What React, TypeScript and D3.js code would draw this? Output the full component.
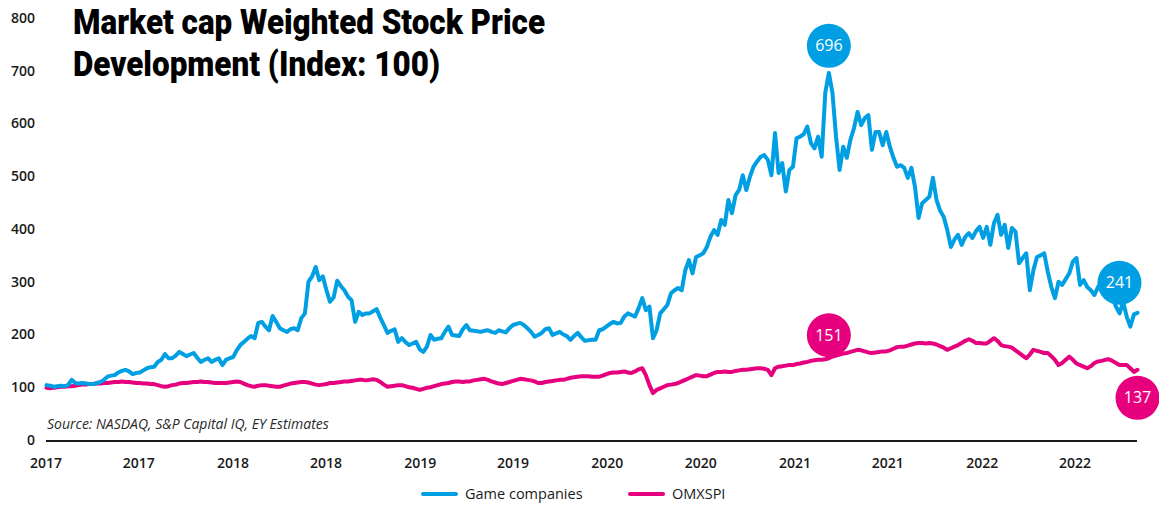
import React from 'react';
import * as d3 from 'd3';

// weekly index values, first week starting 2 Jan 2017
const firstWeek = new Date(2017, 0, 2);

const gameCompanies = [
  104, 103, 101, 102, 103, 102, 104, 114, 108, 107, 108, 107, 106, 106, 108, 110, 114, 120, 122, 123,
  128, 131, 133, 130, 125, 127, 128, 132, 136, 138, 139, 148, 152, 163, 155, 155, 160, 167, 163, 159,
  162, 165, 156, 148, 152, 155, 148, 152, 155, 142, 152, 155, 157, 170, 180, 186, 192, 197, 193, 222,
  224, 215, 208, 235, 224, 212, 208, 205, 210, 212, 208, 231, 240, 300, 310, 328, 303, 310, 284, 262,
  270, 302, 292, 284, 272, 265, 224, 243, 237, 240, 240, 244, 248, 232, 218, 203, 207, 210, 186, 193,
  186, 180, 183, 186, 172, 167, 177, 199, 190, 192, 193, 205, 215, 199, 198, 197, 210, 218, 208, 207,
  206, 205, 207, 208, 205, 203, 208, 206, 204, 212, 218, 220, 222, 218, 212, 205, 196, 199, 203, 210,
  212, 199, 202, 205, 200, 197, 190, 197, 203, 195, 188, 189, 190, 190, 208, 210, 215, 220, 224, 221,
  222, 234, 240, 237, 234, 250, 269, 246, 253, 193, 208, 240, 248, 256, 278, 284, 288, 284, 322, 341,
  316, 347, 350, 354, 366, 385, 398, 389, 417, 408, 455, 430, 464, 474, 502, 474, 499, 518, 528, 537,
  540, 531, 502, 582, 506, 525, 471, 512, 518, 572, 575, 580, 594, 563, 553, 575, 537, 658, 696, 658,
  575, 512, 556, 535, 569, 591, 622, 597, 610, 616, 550, 584, 584, 559, 584, 556, 535, 518, 521, 516,
  497, 516, 480, 421, 449, 455, 461, 497, 455, 435, 423, 398, 366, 380, 389, 370, 385, 392, 383, 396,
  404, 383, 404, 370, 411, 427, 389, 408, 364, 402, 395, 335, 345, 354, 284, 322, 347, 350, 354, 319,
  290, 269, 300, 294, 305, 316, 338, 345, 294, 303, 290, 284, 275, 290, 300, 319, 291, 270, 253, 240,
  262, 234, 215, 238, 241,
];

const omxspi = [
  99, 98, 99, 100, 101, 101, 102, 102, 103, 104, 105, 105, 106, 106, 107, 107, 108, 108, 109, 110,
  110, 111, 110, 110, 109, 108, 108, 107, 107, 106, 106, 104, 102, 101, 102, 104, 105, 107, 108, 108,
  109, 110, 110, 111, 110, 110, 109, 108, 108, 108, 108, 109, 110, 111, 110, 107, 104, 102, 101, 103,
  104, 104, 103, 102, 101, 101, 103, 105, 107, 108, 109, 110, 110, 109, 107, 105, 104, 105, 106, 108,
  108, 109, 110, 111, 111, 112, 113, 114, 114, 113, 114, 115, 114, 110, 105, 101, 102, 103, 104, 104,
  102, 100, 99, 97, 95, 97, 99, 100, 102, 104, 106, 107, 108, 110, 111, 111, 110, 111, 111, 113,
  114, 115, 116, 114, 111, 109, 107, 106, 108, 110, 112, 114, 116, 115, 114, 113, 111, 108, 108, 110,
  111, 112, 113, 114, 114, 116, 118, 119, 120, 121, 121, 121, 120, 120, 120, 122, 125, 127, 128, 128,
  129, 130, 128, 127, 130, 134, 136, 123, 104, 89, 95, 98, 101, 104, 105, 106, 108, 111, 114, 117,
  120, 123, 122, 121, 121, 124, 127, 129, 129, 130, 129, 129, 131, 132, 133, 133, 134, 135, 136, 136,
  135, 133, 123, 136, 139, 140, 141, 142, 142, 144, 145, 147, 148, 150, 151, 152, 152, 153, 155, 158,
  160, 162, 164, 165, 167, 169, 171, 170, 168, 166, 165, 166, 167, 168, 168, 170, 173, 176, 177, 177,
  179, 181, 183, 184, 184, 183, 184, 183, 181, 178, 175, 171, 174, 177, 180, 184, 188, 191, 188, 184,
  184, 183, 183, 188, 193, 188, 180, 178, 177, 175, 170, 165, 160, 155, 162, 171, 169, 167, 165, 165,
  159, 152, 142, 146, 152, 158, 152, 145, 142, 139, 136, 140, 146, 149, 150, 152, 153, 150, 146, 142,
  142, 142, 136, 129, 133,
];

const seriesNames = ['Game companies', 'OMXSPI'];
const seriesColors = ['#009fe3', '#e6007e'];
const yTicks = [0, 100, 200, 300, 400, 500, 600, 700, 800];
const titleLines = ['Market cap Weighted Stock Price', 'Development (Index: 100)'];
const sourceText = 'Source: NASDAQ, S&P Capital IQ, EY Estimates';

const width = 1159;
const height = 507;

const App = () => {
  const toPoints = (vals: number[]) =>
    vals.map((v, i) => ({ date: d3.timeDay.offset(firstWeek, i * 7), value: v }));
  const game = toPoints(gameCompanies);
  const omx = toPoints(omxspi);

  const x = d3.scaleTime()
    .domain([new Date(2017, 0, 1), new Date(2022, 10, 1)])
    .range([46, 1138]);

  const y = d3.scaleLinear()
    .domain([0, 800])
    .range([440, 18]);

  const line = d3.line<{ date: Date; value: number }>()
    .x(d => x(d.date))
    .y(d => y(d.value));

  const xTicks = d3.timeMonth.every(6)!.range(new Date(2017, 0, 1), new Date(2022, 7, 1));
  const fmtYear = d3.timeFormat('%Y');

  // value bubbles: peak and end of game companies, same date / end of omx
  const peakIdx = d3.maxIndex(game, d => d.value);
  const peak = game[peakIdx];
  const omxAtPeak = omx[peakIdx];
  const gameEnd = game[game.length - 1];
  const omxEnd = omx[omx.length - 1];
  const bubbles = [
    { cx: x(peak.date), cy: y(peak.value) - 27, label: peak.value, color: seriesColors[0] },
    { cx: x(omxAtPeak.date), cy: y(omxAtPeak.value) - 23, label: 151, color: seriesColors[1] },
    { cx: x(gameEnd.date) - 18, cy: y(gameEnd.value) - 30, label: gameEnd.value, color: seriesColors[0] },
    { cx: x(omxEnd.date), cy: y(omxEnd.value) + 28, label: 137, color: seriesColors[1] },
  ];

  const font = '"Open Sans", "Noto Sans", sans-serif';
  const titleWidths = [472, 367];

  return (
    <div style={{ position: 'absolute', left: 0, top: 0 }}>
      <svg width={width} height={height} style={{ display: 'block', background: '#fff' }}>
        {/* y tick labels */}
        {yTicks.map(t => (
          <text key={t} x={35} y={y(t)} dy="0.35em" textAnchor="end"
            fontFamily={font} fontSize={14} fontWeight={600} fill="#1a1a1a">{t}</text>
        ))}

        {/* title */}
        {titleLines.map((t, i) => (
          <text key={t} x={73} y={34 + i * 42} fontFamily='Roboto, "Open Sans", sans-serif'
            fontWeight={900} fontSize={35} fill="#000"
            textLength={titleWidths[i]} lengthAdjust="spacingAndGlyphs">{t}</text>
        ))}

        <text x={47} y={429} fontFamily={font} fontStyle="italic" fontSize={14} fill="#2a2a2a">{sourceText}</text>

        {/* x axis */}
        <line x1={46} x2={1137} y1={441} y2={441} stroke="#1a1a1a" strokeWidth={2} />
        {xTicks.map((d, i) => (
          <text key={i} x={x(d)} y={468} textAnchor="middle" fontFamily={font} fontSize={14}
            fontWeight={600} fill="#1a1a1a">{fmtYear(d)}</text>
        ))}

        {/* lines */}
        <path d={line(omx) ?? ''} fill="none" stroke={seriesColors[1]} strokeWidth={4} strokeLinejoin="round" strokeLinecap="round" />
        <path d={line(game) ?? ''} fill="none" stroke={seriesColors[0]} strokeWidth={4} strokeLinejoin="round" strokeLinecap="round" />

        {bubbles.map((b, i) => (
          <g key={i}>
            <circle cx={b.cx} cy={b.cy} r={22} fill={b.color} />
            <text x={b.cx} y={b.cy} dy="0.35em" textAnchor="middle" fontFamily={font} fontSize={16}
              fill="#fff">{b.label}</text>
          </g>
        ))}

        {/* legend */}
        {seriesNames.map((name, i) => {
          const lx = i === 0 ? 423 : 630;
          return (
            <g key={name}>
              <line x1={lx} x2={lx + 33} y1={494} y2={494} stroke={seriesColors[i]} strokeWidth={4} strokeLinecap="round" />
              <text x={lx + 42} y={494} dy="0.35em" fontFamily={font} fontSize={14.5} fontWeight={500} fill="#1a1a1a">{name}</text>
            </g>
          );
        })}
      </svg>
    </div>
  );
};

export default App;
